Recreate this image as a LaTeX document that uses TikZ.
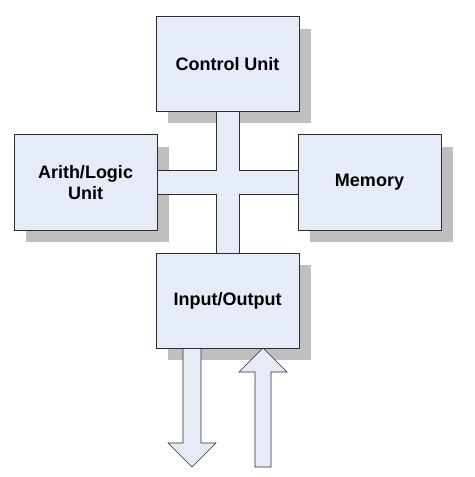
\documentclass[tikz,border=0pt]{standalone}
\usepackage{fontspec}
\setmainfont{Liberation Sans}
\usetikzlibrary{backgrounds}

\definecolor{unitfill}{RGB}{230,236,247}
\definecolor{unitshadow}{RGB}{191,191,191}
\definecolor{unitline}{RGB}{45,45,45}

\tikzset{every picture/.style={line width=0.75pt}}
\tikzset{
  unit/.style={draw=unitline, fill=unitfill, minimum width=107.25pt, minimum height=71.25pt, inner sep=0.75pt, align=center, font=\fontsize{13.5}{16}\selectfont\bfseries},
  busedge/.style={draw=unitline, line width=18pt},
  businner/.style={draw=unitfill, line width=16.5pt},
  bigarrow/.style={draw=unitline, fill=unitfill, line join=miter}
}

\begin{document}
\begin{tikzpicture}[x=0.75pt,y=0.75pt,yscale=-1,xscale=1]
\useasboundingbox (0,0) rectangle (474,477);

% Units
\node[unit] (cu) at (227.5,64) {Control Unit};
\node[unit] (alu) at (85.5,182.5) {Arith/Logic\\Unit};
\node[unit] (mem) at (369.5,182.5) {Memory};
\node[unit] (io) at (227.5,300.5) {Input/Output};

\begin{scope}[on background layer]
%Shadows
\fill[unitshadow] (168,29) rectangle (311,123);
\fill[unitshadow] (26,147) rectangle (169,242);
\fill[unitshadow] (310,147) rectangle (453,242);
\fill[unitshadow] (168,265) rectangle (311,360);

%Bus
\draw[busedge] (cu.south) -- (io.north);
\draw[busedge] (alu.east) -- (mem.west);
\draw[businner] (cu.south) -- (io.north);
\draw[businner] (alu.east) -- (mem.west);

%Output arrow
\filldraw[bigarrow] (183,348) -- (183,443) -- (168,443) -- (192,467) -- (216,443) -- (201,443) -- (201,348);
%Input arrow
\filldraw[bigarrow] (255,467) -- (255,372) -- (239,372) -- (263,348) -- (287,372) -- (271,372) -- (271,467) -- cycle;
\end{scope}

\end{tikzpicture}
\end{document}
